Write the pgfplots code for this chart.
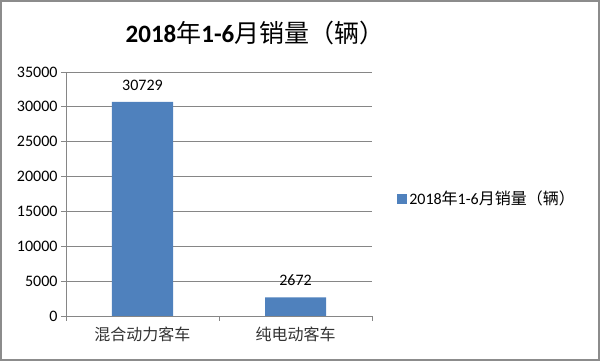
\documentclass[border=0pt]{standalone}
\usepackage{fontspec}
\setmainfont{Carlito}
\newfontfamily\cjk{Noto Sans CJK SC}
\usepackage{pgfplots}
\pgfplotsset{compat=1.18}
\definecolor{barblue}{HTML}{4F81BD}
\definecolor{gridgray}{HTML}{868686}
\definecolor{framegray}{HTML}{8C8C8C}
\begin{document}
\begin{tikzpicture}[x=1pt,y=1pt]
\useasboundingbox (0,0) rectangle (600,361);
\draw[framegray, line width=2pt] (1,1) rectangle (599,360);
\node[font=\fontsize{25}{30}\selectfont] at (255,328) {\textbf{2018}{\cjk 年}\textbf{1-6}{\cjk 月销量（辆）}};
\begin{axis}[
  at={(66pt,45pt)}, anchor=south west,
  scale only axis, width=306pt, height=244pt,
  xmin=-0.5, xmax=1.5, ymin=0, ymax=35000,
  enlargelimits=false,
  axis x line*=bottom, axis y line*=left,
  axis line style={gridgray, line width=0.8pt},
  ymajorgrids, grid style={gridgray, line width=0.8pt},
  tick align=outside,
  major tick length=5pt,
  tick style={gridgray, line width=0.8pt},
  ytick={0,5000,...,35000},
  scaled y ticks=false,
  /pgf/number format/set thousands separator={},
  /pgf/number format/assume math mode=true,
  yticklabel style={font=\fontsize{16}{19}\selectfont, text=black},
  xtick={-0.5,0.5,1.5}, xticklabels={},
  extra x ticks={0,1},
  extra x tick labels={{\cjk 混合动力客车},{\cjk 纯电动客车}},
  extra x tick style={major tick length=0pt, xticklabel style={font=\fontsize{16}{19}\selectfont, text=black!80, yshift=-7pt}},
  ybar, bar width=61pt,
  nodes near coords,
  every node near coord/.append style={font=\fontsize{16}{19}\selectfont, text=black, yshift=8pt},
  legend style={at={(rel axis cs:1.082,0.48)}, anchor=west, draw=none, fill=none,
    font=\fontsize{16}{19}\selectfont, inner sep=0pt},
  legend image code/.code={\fill[barblue] (0pt,-5pt) rectangle (10pt,5pt);},
]
\addplot[fill=barblue, draw=none] coordinates {(0,30729) (1,2672)};
\addlegendentry{2018{\cjk 年}1-6{\cjk 月销量（辆）}}
\end{axis}
\end{tikzpicture}
\end{document}
